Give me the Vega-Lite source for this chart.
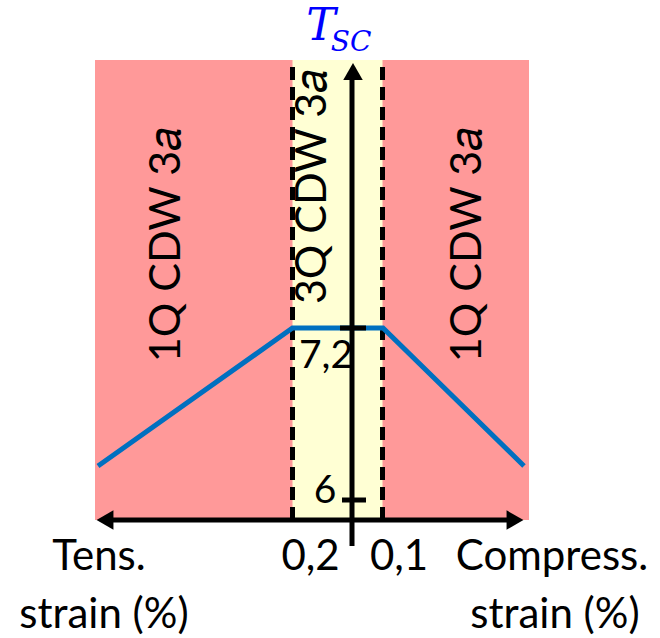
{
  "$schema": "https://vega.github.io/schema/vega-lite/v6.json",
  "width": 660,
  "height": 638,
  "autosize": "none",
  "padding": 0,
  "background": "white",
  "config": {"view": {"stroke": null}},
  "datasets": {
    "zones": [
      {"zone": "1Q", "x": -2.57, "x2": 1.77, "y": 5.86, "y2": 9.07},
      {"zone": "3Q", "x": -0.595, "x2": 0.305, "y": 5.86, "y2": 9.07}
    ],
    "bounds": [
      {"x": -0.595, "y": 5.86, "y2": 9.07},
      {"x": 0.305, "y": 5.86, "y2": 9.07}
    ],
    "tsc": [
      {"x": -2.54, "t": 6.237},
      {"x": -0.595, "t": 7.2},
      {"x": 0.31, "t": 7.2},
      {"x": 1.72, "t": 6.237}
    ],
    "axes": [
      {"x": -2.5, "x2": 1.66, "y": 5.86, "y2": 5.86},
      {"x": 0.0, "x2": 0.0, "y": 5.679, "y2": 8.98},
      {"x": -0.12, "x2": 0.14, "y": 7.2, "y2": 7.2},
      {"x": -0.1, "x2": 0.14, "y": 6.0, "y2": 6.0}
    ],
    "heads": [
      {"dir": "left", "x": -2.47, "y": 5.86},
      {"dir": "right", "x": 1.63, "y": 5.86},
      {"dir": "up", "x": 0.01, "y": 8.99}
    ],
    "labels": [
      {"label": "Tens.", "x": -2.53, "y": 5.6},
      {"label": "strain (%)", "x": -2.48, "y": 5.2},
      {"label": "0,2", "x": -0.415, "y": 5.6},
      {"label": "0,1", "x": 0.47, "y": 5.6},
      {"label": "Compress.", "x": 2.0, "y": 5.6},
      {"label": "strain (%)", "x": 2.03, "y": 5.2}
    ],
    "ticks": [
      {"label": "7,2", "x": -0.26, "y": 7.005},
      {"label": "6", "x": -0.27, "y": 6.063}
    ],
    "phases": [
      {"label": "1Q CDW 3𝑎", "x": -1.85, "y": 7.779},
      {"label": "3Q CDW 3𝑎", "x": -0.39, "y": 8.184},
      {"label": "1Q CDW 3𝑎", "x": 1.16, "y": 7.779}
    ],
    "title": [{"label": "T", "x": -0.31, "y": 9.3}],
    "sub": [{"label": "SC", "x": -0.01, "y": 9.19}]
  },
  "layer": [
    {
      "data": {"name": "zones"},
      "mark": {"type": "rect"},
      "encoding": {
        "x": {"field": "x", "type": "quantitative", "scale": {"domain": [-3.52, 3.08], "zero": false, "nice": false}, "axis": null},
        "x2": {"field": "x2"},
        "y": {"field": "y", "type": "quantitative", "scale": {"domain": [5.0372, 9.4884], "zero": false, "nice": false}, "axis": null},
        "y2": {"field": "y2"},
        "color": {"field": "zone", "type": "nominal", "scale": {"domain": ["1Q", "3Q"], "range": ["#ff9999", "#ffffd4"]}, "legend": null},
        "opacity": {"value": 1}
      }
    },
    {
      "data": {"name": "bounds"},
      "mark": {"type": "rule", "color": "black", "strokeWidth": 5, "strokeDash": [13, 7]},
      "encoding": {
        "x": {"field": "x", "type": "quantitative"},
        "y": {"field": "y", "type": "quantitative"},
        "y2": {"field": "y2"}
      }
    },
    {
      "data": {"name": "tsc"},
      "mark": {"type": "line", "color": "#0070c0", "strokeWidth": 5},
      "encoding": {
        "x": {"field": "x", "type": "quantitative"},
        "y": {"field": "t", "type": "quantitative"}
      }
    },
    {
      "data": {"name": "axes"},
      "mark": {"type": "rule", "color": "black", "strokeWidth": 5},
      "encoding": {
        "x": {"field": "x", "type": "quantitative"},
        "x2": {"field": "x2"},
        "y": {"field": "y", "type": "quantitative"},
        "y2": {"field": "y2"}
      }
    },
    {
      "data": {"name": "heads"},
      "mark": {"type": "point", "filled": true, "color": "black", "opacity": 1, "size": 380},
      "encoding": {
        "x": {"field": "x", "type": "quantitative"},
        "y": {"field": "y", "type": "quantitative"},
        "shape": {"field": "dir", "type": "nominal", "scale": {"domain": ["left", "right", "up"], "range": ["triangle-left", "triangle-right", "triangle-up"]}, "legend": null}
      }
    },
    {
      "data": {"name": "labels"},
      "mark": {"type": "text", "font": "Lato", "fontSize": 42, "color": "black", "align": "center", "baseline": "middle"},
      "encoding": {
        "x": {"field": "x", "type": "quantitative"},
        "y": {"field": "y", "type": "quantitative"},
        "text": {"field": "label"}
      }
    },
    {
      "data": {"name": "ticks"},
      "mark": {"type": "text", "font": "Lato", "fontSize": 39, "color": "black", "align": "center", "baseline": "middle"},
      "encoding": {
        "x": {"field": "x", "type": "quantitative"},
        "y": {"field": "y", "type": "quantitative"},
        "text": {"field": "label"}
      }
    },
    {
      "data": {"name": "phases"},
      "mark": {"type": "text", "font": "Lato", "fontSize": 43, "color": "black", "align": "center", "baseline": "middle", "angle": 270},
      "encoding": {
        "x": {"field": "x", "type": "quantitative"},
        "y": {"field": "y", "type": "quantitative"},
        "text": {"field": "label"}
      }
    },
    {
      "data": {"name": "title"},
      "mark": {"type": "text", "font": "DejaVu Serif", "fontStyle": "italic", "fontSize": 44, "color": "#0000ff", "align": "center", "baseline": "middle"},
      "encoding": {
        "x": {"field": "x", "type": "quantitative"},
        "y": {"field": "y", "type": "quantitative"},
        "text": {"field": "label"}
      }
    },
    {
      "data": {"name": "sub"},
      "mark": {"type": "text", "font": "DejaVu Serif", "fontStyle": "italic", "fontSize": 28, "color": "#0000ff", "align": "center", "baseline": "middle"},
      "encoding": {
        "x": {"field": "x", "type": "quantitative"},
        "y": {"field": "y", "type": "quantitative"},
        "text": {"field": "label"}
      }
    }
  ]
}
